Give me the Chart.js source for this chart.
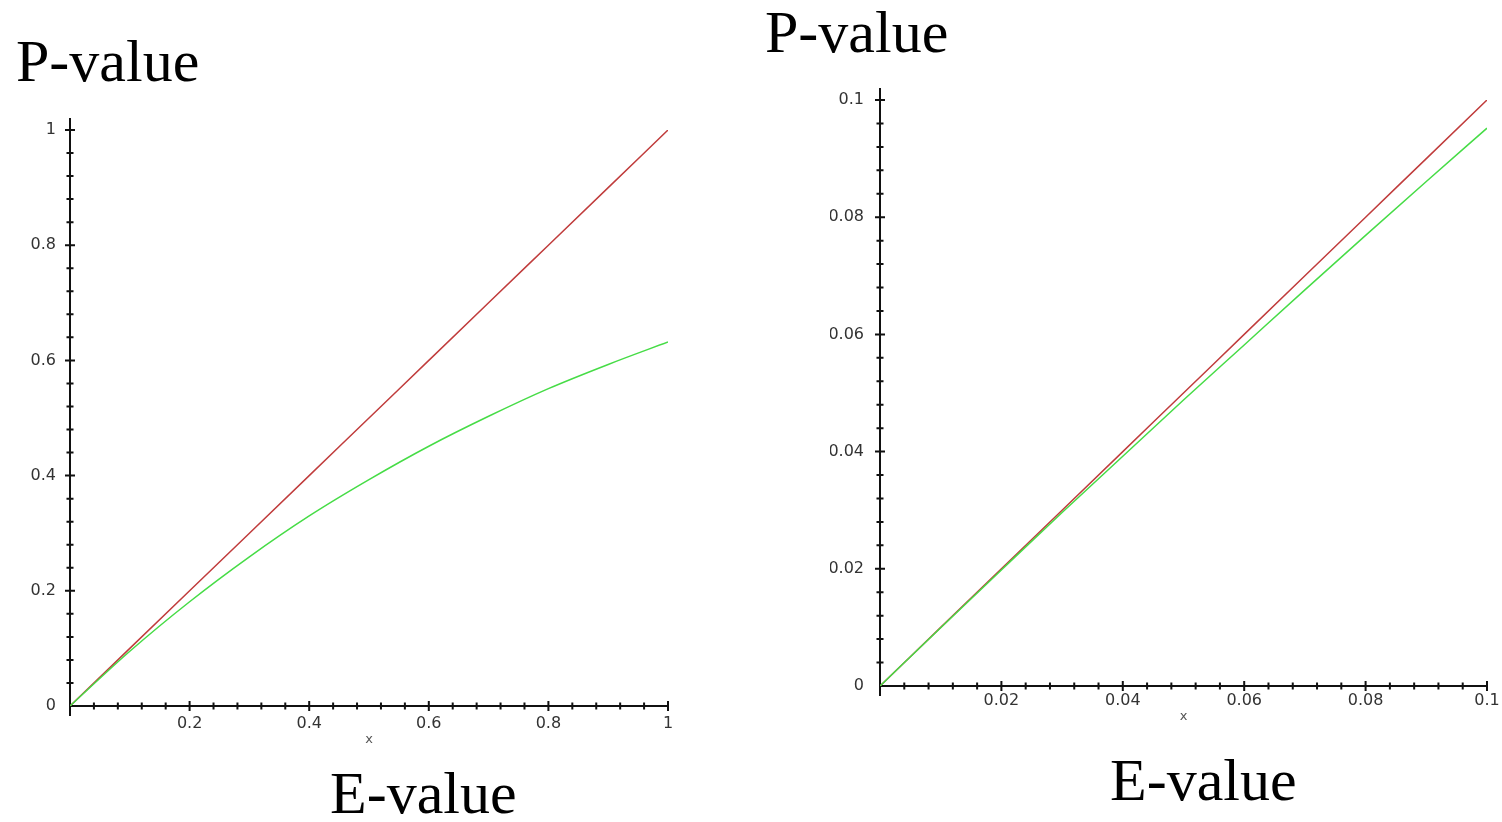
<!DOCTYPE html>
<html>
<head>
<meta charset="utf-8">
<script src="https://cdn.jsdelivr.net/npm/chart.js@4/dist/chart.umd.min.js"></script>
<style>
  html, body { margin: 0; padding: 0; background: #fff; }
  body { width: 1502px; height: 822px; position: relative; overflow: hidden; }
  .box { position: absolute; top: 0; }
  .big { position: absolute; font-family: "Liberation Serif", serif; font-size: 60px; line-height: 1; color: #000; white-space: nowrap; }
</style>
</head>
<body>
<div class="box" style="left:0"><canvas id="left-chart" width="760" height="822"></canvas></div>
<div class="box" style="left:760px"><canvas id="right-chart" width="742" height="822"></canvas></div>
<div class="big" style="left:16px; top:31px">P-value</div>
<div class="big" style="left:330px; top:763px">E-value</div>
<div class="big" style="left:765px; top:2px">P-value</div>
<div class="big" style="left:1110px; top:750px">E-value</div>
<script>
// left panel, E-value 0..1
const leftE = [0, 0.1, 0.2, 0.3, 0.4, 0.5, 0.6, 0.7, 0.8, 0.9, 1];
const leftRed = [0, 0.1, 0.2, 0.3, 0.4, 0.5, 0.6, 0.7, 0.8, 0.9, 1];
const leftGreen = [0, 0.095, 0.181, 0.259, 0.33, 0.393, 0.451, 0.503, 0.551, 0.593, 0.632];
const leftTicks = [0, 0.2, 0.4, 0.6, 0.8, 1];

// right panel, zoomed 0..0.1
const rightE = [0, 0.01, 0.02, 0.03, 0.04, 0.05, 0.06, 0.07, 0.08, 0.09, 0.1];
const rightRed = [0, 0.01, 0.02, 0.03, 0.04, 0.05, 0.06, 0.07, 0.08, 0.09, 0.1];
const rightGreen = [0, 0.00995, 0.0198, 0.0296, 0.0392, 0.0488, 0.0582, 0.0676, 0.0769, 0.0861, 0.0952];
const rightTicks = [0, 0.02, 0.04, 0.06, 0.08, 0.1];

const minorPerMajor = 5;
const RED = '#c03c3c';
const GREEN = '#46dc46';

function buildTicks(majors) {
  const out = [];
  for (let i = 0; i < majors.length; i++) {
    out.push({ value: majors[i], major: true });
    if (i < majors.length - 1) {
      const step = (majors[i + 1] - majors[i]) / minorPerMajor;
      for (let k = 1; k < minorPerMajor; k++) out.push({ value: majors[i] + step * k, major: false });
    }
  }
  return out;
}

// maple style axes: lines through the origin, ticks crossing the axis
const mapleAxes = {
  id: 'mapleAxes',
  beforeDatasetsDraw(chart) {
    const { ctx, scales: { x, y } } = chart;
    const x0 = x.getPixelForValue(0);
    const y0 = y.getPixelForValue(0);
    ctx.save();
    ctx.strokeStyle = '#111';
    ctx.lineWidth = 2;
    ctx.beginPath();
    ctx.moveTo(x.left, y0);
    ctx.lineTo(x.right + 1, y0);
    ctx.moveTo(x0, y.top - 12);
    ctx.lineTo(x0, y.bottom + 10);
    x.ticks.forEach((t) => {
      if (t.value === 0) return;
      const px = x.getPixelForValue(t.value);
      const h = t.major ? 5 : 3.5;
      ctx.moveTo(px, y0 - h);
      ctx.lineTo(px, y0 + h);
    });
    y.ticks.forEach((t) => {
      if (t.value === 0) return;
      const py = y.getPixelForValue(t.value);
      const h = t.major ? 5 : 3.5;
      ctx.moveTo(x0 - h, py);
      ctx.lineTo(x0 + h, py);
    });
    ctx.stroke();
    ctx.restore();
  },
};

function makePanel(canvas, cfg) {
  const tickFont = { family: 'DejaVu Sans', size: 16 };
  return new Chart(canvas, {
    type: 'line',
    data: {
      datasets: [
        { data: cfg.e.map((v, i) => ({ x: v, y: cfg.green[i] })), borderColor: GREEN, order: 0 },
        { data: cfg.e.map((v, i) => ({ x: v, y: cfg.red[i] })), borderColor: RED, order: 1 },
      ],
    },
    options: {
      responsive: false,
      animation: false,
      devicePixelRatio: 1,
      layout: { padding: cfg.padding },
      elements: {
        point: { radius: 0 },
        line: { borderWidth: 1.5, cubicInterpolationMode: 'monotone' },
      },
      plugins: { legend: { display: false }, tooltip: { enabled: false } },
      scales: {
        x: {
          type: 'linear',
          min: cfg.ticks[0],
          max: cfg.ticks[cfg.ticks.length - 1],
          grid: { display: false },
          border: { display: false },
          afterBuildTicks: (s) => { s.ticks = buildTicks(cfg.ticks); },
          afterFit: (s) => { s.height = cfg.xHeight; },
          ticks: {
            autoSkip: false,
            maxRotation: 0,
            padding: cfg.xPad,
            color: '#333',
            font: tickFont,
            callback: (v, i, ts) => (ts[i].major && v !== 0 ? String(v) : ''),
          },
          title: { display: true, text: 'x', color: '#555', font: { family: 'DejaVu Sans', size: 13 }, padding: 0 },
        },
        y: {
          type: 'linear',
          min: cfg.ticks[0],
          max: cfg.ticks[cfg.ticks.length - 1],
          grid: { display: false },
          border: { display: false },
          afterBuildTicks: (s) => { s.ticks = buildTicks(cfg.ticks); },
          afterFit: (s) => { s.width = cfg.yWidth; },
          ticks: {
            autoSkip: false,
            padding: cfg.yPad,
            color: '#333',
            font: tickFont,
            callback: (v, i, ts) => (ts[i].major ? String(v) : ''),
          },
        },
      },
    },
    plugins: [mapleAxes],
  });
}

makePanel(document.getElementById('left-chart'), {
  e: leftE, red: leftRed, green: leftGreen, ticks: leftTicks,
  padding: { left: 10, top: 130, right: 92, bottom: 75 },
  yWidth: 60, xHeight: 41, xPad: 0, yPad: 6,
});

makePanel(document.getElementById('right-chart'), {
  e: rightE, red: rightRed, green: rightGreen, ticks: rightTicks,
  padding: { left: 70, top: 100, right: 15, bottom: 98 },
  yWidth: 50, xHeight: 38, xPad: -3, yPad: 8,
});
</script>
</body>
</html>
